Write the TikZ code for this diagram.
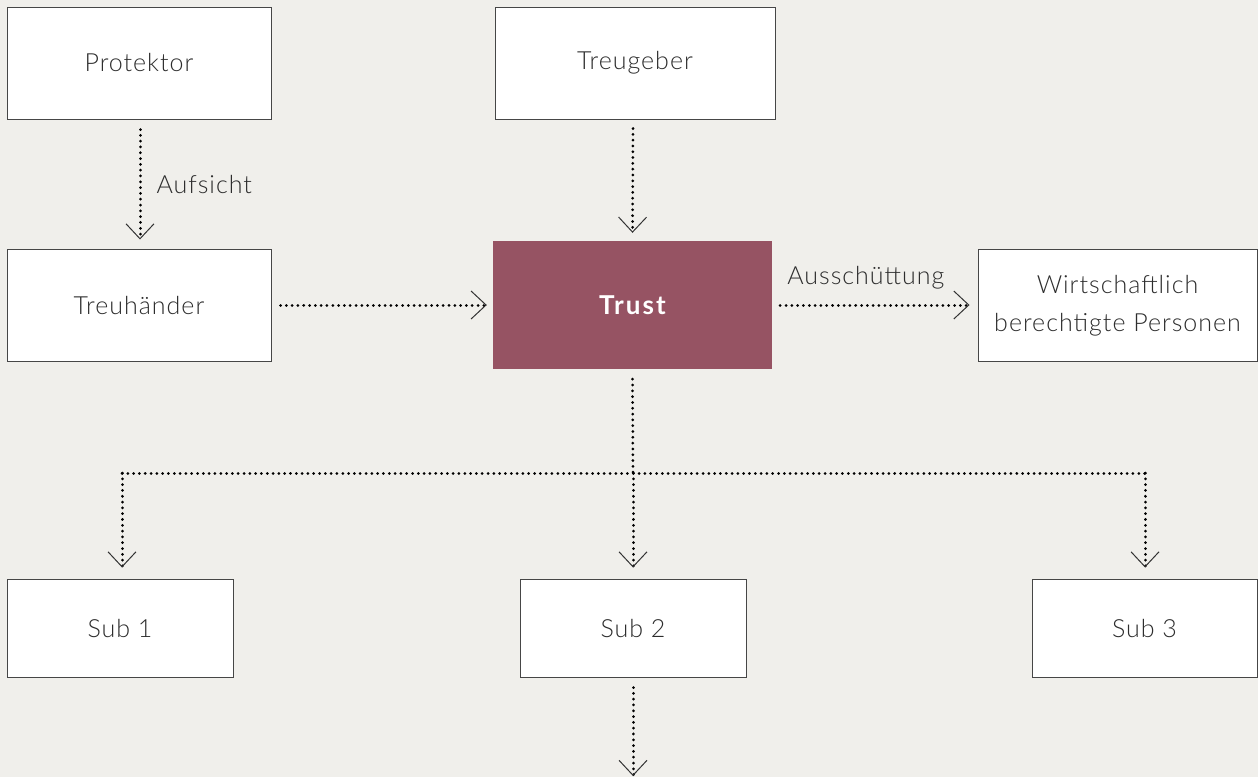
\documentclass[tikz,border=0pt]{standalone}
\usepackage{fontspec}
\setmainfont{Lato}[UprightFont=* Light, BoldFont=* Bold, LetterSpace=4]
\usetikzlibrary{arrows.meta}
\definecolor{bg}{RGB}{240,239,235}
\definecolor{trustc}{RGB}{150,83,99}
\definecolor{txt}{RGB}{45,45,45}
\definecolor{edge}{RGB}{70,70,70}
\begin{document}
\begin{tikzpicture}[x=1pt,y=-1pt,
  box/.style={draw=edge,line width=1pt,fill=white,text=txt,inner sep=0pt,align=center,
    font=\fontsize{25}{38}\selectfont},
  trustbox/.style={fill=trustc,text=white,inner sep=0pt,font=\fontsize{26}{30}\selectfont\bfseries\addfontfeature{LetterSpace=8}},
  lbl/.style={text=txt,inner sep=0pt,font=\fontsize{25}{30}\selectfont},
  flow/.style={line width=3pt,line cap=round,dash pattern=on 0.01pt off 5.8pt,draw=black,
    -{Straight Barb[length=15pt,width=28pt,line width=1pt,line cap=butt,color=black!80]}},
  dots/.style={line width=3pt,line cap=round,dash pattern=on 0.01pt off 5.8pt,draw=black}]
\fill[bg] (0,0) rectangle (1258,777);
\useasboundingbox (0,0) rectangle (1258,777);

\node[box,minimum width=264pt,minimum height=112pt] (prot) at (139,63) {Protektor};
\node[box,minimum width=280pt,minimum height=112pt] (treug) at (635,63) {Treugeber};
\node[box,minimum width=264pt,minimum height=112pt] (treuh) at (139,305) {Treuhänder};
\node[trustbox,minimum width=279pt,minimum height=128pt] (trust) at (632.5,305) {Trust};
\node[box,minimum width=279pt,minimum height=112pt] (wirt) at (1117.5,305) {\raisebox{-3pt}{\begin{tabular}{@{}c@{}}Wirtschaftlich\\berechtigte Personen\end{tabular}}};
\node[box,minimum width=226pt,minimum height=98pt] (sub1) at (120,628) {\raisebox{-2pt}{Sub 1}};
\node[box,minimum width=226pt,minimum height=98pt] (sub2) at (633,628) {\raisebox{-2pt}{Sub 2}};
\node[box,minimum width=225pt,minimum height=98pt] (sub3) at (1144.5,628) {\raisebox{-2pt}{Sub 3}};

\coordinate (j) at (633,473);
\coordinate (jl) at (122,473);
\coordinate (jr) at (1145,473);
\coordinate (bot) at (633,776);

\draw[flow] ([xshift=1pt,yshift=-10pt]prot.south) -- ([xshift=1pt,yshift=9pt]treuh.north)
  node[lbl,midway,right=15pt] (aufs) {Aufsicht};
\draw[flow] ([xshift=-2pt,yshift=-9pt]treug.south) -- ([yshift=8pt]trust.north);
\draw[flow] ([xshift=9pt]treuh.east) -- ([xshift=-6pt]trust.west);
\draw[flow] ([xshift=8pt]trust.east) -- ([xshift=-8pt]wirt.west)
  node[lbl,midway,above=14pt,xshift=-9pt] (aus) {Ausschüttung};
\draw[dots] ([yshift=-10pt]trust.south) -- (j);
\draw[dots] (jl) -- (jr);
\draw[flow] (jl) -- ([yshift=11pt]jl |- sub1.north);
\draw[flow] (j) -- ([yshift=11pt]sub2.north);
\draw[flow] (jr) -- ([yshift=11pt]jr |- sub3.north);
\draw[flow] ([yshift=-10pt]sub2.south) -- (bot);
\end{tikzpicture}
\end{document}
